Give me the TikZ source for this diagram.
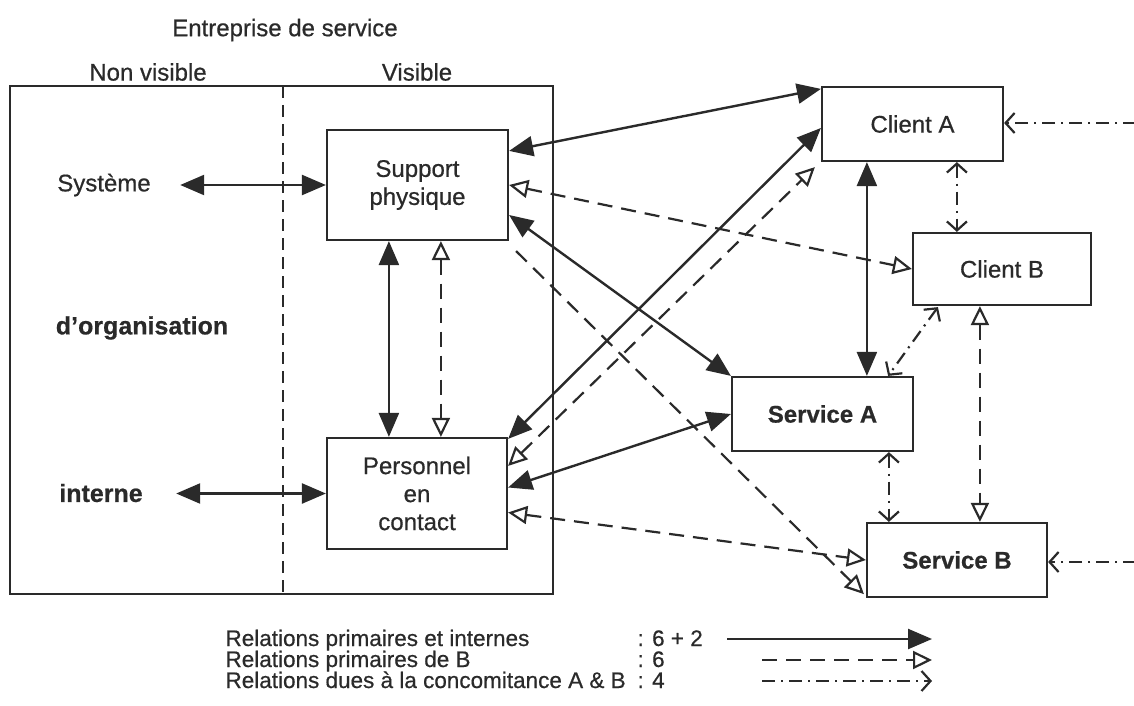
\documentclass[tikz,border=0pt]{standalone}
\usepackage{fontspec}
\setmainfont{Liberation Sans}[FakeBold=0.6]
\usetikzlibrary{arrows.meta,calc}
\definecolor{ink}{HTML}{2A2A2A}
\begin{document}
\begin{tikzpicture}[x=1pt,y=-1pt,
  every node/.style={text=ink},
  lbl/.style={font=\fontsize{24}{28}\selectfont},
  blbl/.style={font=\fontsize{25}{28}\selectfont\bfseries},
  box/.style={draw=ink,line width=2.2pt,align=center,inner sep=0pt,
    font=\fontsize{24}{28}\selectfont},
  bbox/.style={box,font=\fontsize{24}{28}\selectfont\bfseries},
  leg/.style={font=\fontsize{22.5}{22}\selectfont,anchor=base west},
  sol/.style={draw=ink,line width=2.4pt,{Triangle[length=24pt,width=20pt]}-{Triangle[length=24pt,width=20pt]}},
  solone/.style={draw=ink,line width=2.4pt,-{Triangle[length=24pt,width=20pt]}},
  dsh/.style={draw=ink,line width=2.2pt,dash pattern=on 15pt off 9pt,
    {Triangle[open,length=19pt,width=18pt,fill=white,line width=2.2pt]}-{Triangle[open,length=19pt,width=18pt,fill=white,line width=2.2pt]}},
  dshone/.style={draw=ink,line width=2.2pt,dash pattern=on 15pt off 9pt,
    -{Triangle[open,length=19pt,width=18pt,fill=white,line width=2.2pt]}},
  dd/.style={draw=ink,line width=2.2pt,dash pattern=on 13pt off 6pt on 2pt off 6pt,
    {Straight Barb[length=9pt,width=20pt,line width=2.2pt]}-{Straight Barb[length=9pt,width=20pt,line width=2.2pt]}},
  ddone/.style={draw=ink,line width=2.2pt,dash pattern=on 13pt off 6pt on 2pt off 6pt,
    -{Straight Barb[length=9pt,width=20pt,line width=2.2pt]}}
]
\useasboundingbox (0,0) rectangle (1134,706);

% titles
\node[lbl] (title) at (285,30) {Entreprise de service};
\node[lbl] (nv) at (148,72) {Non visible};
\node[lbl] (vis) at (417,72) {Visible};

% enterprise frame
\draw[ink,line width=2.2pt] (10,86) rectangle (553,594);
\draw[ink,line width=1.4pt,dash pattern=on 12pt off 7pt] (283,86) -- (283,594);

% left labels
\node[lbl] (sys) at (104,185) {Système};
\node[blbl] (org) at (142,328) {d’organisation};
\node[blbl] (int) at (101,493) {interne};

% boxes
\node[box,minimum width=181pt,minimum height=110pt] (sp) at (417.5,185) {Support\\physique};
\node[box,minimum width=180pt,minimum height=111pt] (pc) at (417,493.5) {Personnel\\en\\contact};
\node[box,minimum width=181pt,minimum height=74pt] (ca) at (912.5,124) {Client A};
\node[box,minimum width=178pt,minimum height=72pt] (cb) at (1002,269) {Client B};
\node[bbox,minimum width=181pt,minimum height=74pt] (sa) at (822.5,414) {Service A};
\node[bbox,minimum width=180pt,minimum height=74pt] (sb) at (957,560) {Service B};

% internal relations
\draw[sol] ([xshift=26pt]sys.east |- sp.west) -- (sp.west);
\draw[sol] ([xshift=30pt]int.east |- pc.west) -- (pc.west);
\draw[sol] ($(sp.south west)+(63,0)$) -- ($(pc.north west)+(63,0)$);
\draw[dsh] ($(sp.south west)+(115,0)$) -- ($(pc.north west)+(115,0)$);

% support relations
\draw[sol] ($(sp.north east)+(0,22)$) -- ($(ca.north west)+(0,3)$);
\draw[dsh] (sp.east) -- (cb.west);
\draw[sol] ($(sp.east)+(0,30)$) -- (sa.north west);
\draw[dshone] ($(sp.south east)+(7,10)$) -- ($(sb.south west)+(-2,-4)$);

% personnel relations
\draw[sol] ($(pc.north east)+(0,2)$) -- ($(ca.west)+(0,4)$);
\draw[dsh] ($(pc.north east)+(0,29)$) -- ($(ca.south west)+(-6,5)$);
\draw[sol] ($(pc.east)+(0,-6)$) -- (sa.west);
\draw[dsh] ($(pc.east)+(0,19)$) -- (sb.west);

% client / service relations
\draw[sol] ($(ca.south west)+(46,0)$) -- ($(sa.north west)+(136,0)$);
\draw[dd] ($(ca.south west)+(136,0)$) -- ($(cb.north west)+(45,0)$);
\draw[dd] ($(cb.south west)+(26,1)$) -- ($(sa.north east)+(-26,0)$);
\draw[dsh] ($(cb.south west)+(68,0)$) -- ($(sb.north west)+(114,0)$);
\draw[dd] ($(sa.south west)+(158,0)$) -- ($(sb.north west)+(23,0)$);

% external
\coordinate (extA) at (1136,123);
\coordinate (extB) at (1136,562);
\draw[ddone] (extA) -- (ca.east |- extA);
\draw[ddone] (extB) -- (sb.east |- extB);

% legend
\node[leg] (l1) at (222,646) {Relations primaires et internes};
\node[leg] (l2) at (222,667) {Relations primaires de B};
\node[leg] (l3) at (222,688) {Relations dues à la concomitance A \& B};
\node[leg] (n1) at (634,646) {: 6 + 2};
\node[leg] (n2) at (634,667) {: 6};
\node[leg] (n3) at (634,688) {: 4};
\coordinate (a1) at (727,639);
\coordinate (b1) at (932,639);
\coordinate (a2) at (762,660);
\coordinate (b2) at (932,660);
\coordinate (a3) at (762,681);
\coordinate (b3) at (932,681);
\draw[solone] (a1) -- (b1);
\draw[dshone] (a2) -- (b2);
\draw[ddone] (a3) -- (b3);
\end{tikzpicture}
\end{document}
